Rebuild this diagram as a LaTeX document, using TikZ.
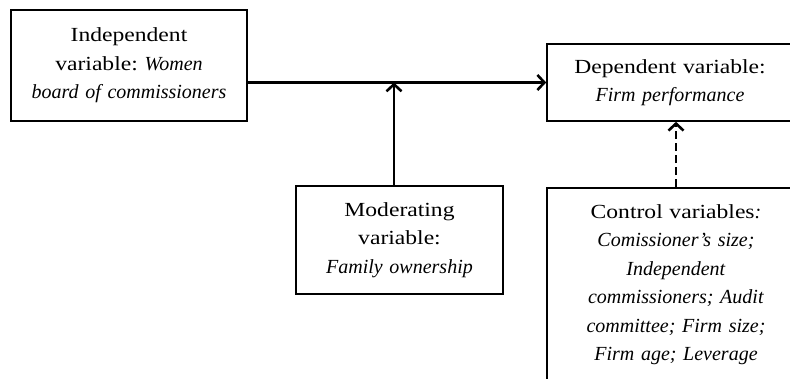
\documentclass[tikz,border=0pt]{standalone}
\usepackage{fontspec}
\setmainfont{Liberation Serif}[UprightFeatures={FakeStretch=1.18}]
\usetikzlibrary{arrows.meta}
\frenchspacing
\begin{document}
\begin{tikzpicture}[x=1pt,y=1pt,
  box/.style={draw,line width=1.6pt,align=center,inner sep=0pt,font=\fontsize{20}{28.5}\selectfont},
  conn/.style={line width=2.6pt,-{Straight Barb[length=7pt,width=15pt,line width=2.6pt]}}]
\useasboundingbox (0,0) rectangle (790,378);
\clip (0,0) rectangle (790,378);
\node[box,minimum width=236pt,minimum height=111pt,text width=234pt] (L) at (129,312.5)
  {Independent\\variable: \textit{Women}\\\textit{board of commissioners}};
\node[box,minimum width=246pt,minimum height=77pt,text width=240pt] (D) at (670,295.5)
  {Dependent variable:\\\textit{Firm performance}};
\node[box,minimum width=207pt,minimum height=108pt,text width=204pt] (M) at (399.5,138)
  {Moderating\\variable:\\\textit{Family ownership}};
\node[box,minimum width=258pt,minimum height=193pt,text width=250pt] (C) at (676,93.5)
  {Control variables\textit{:}\\\textit{Comissioner's size;}\\\textit{Independent}\\\textit{commissioners; Audit}\\\textit{committee; Firm size;}\\\textit{Firm age; Leverage}};
\coordinate (J) at (394,295.5);
\draw[conn] (L.east |- D.west) -- (D.west);
\draw[conn] (M.north -| J) -- (J);
\draw[conn,dash pattern=on 8pt off 4pt] (C.north) -- (C.north |- D.south);
\end{tikzpicture}
\end{document}
